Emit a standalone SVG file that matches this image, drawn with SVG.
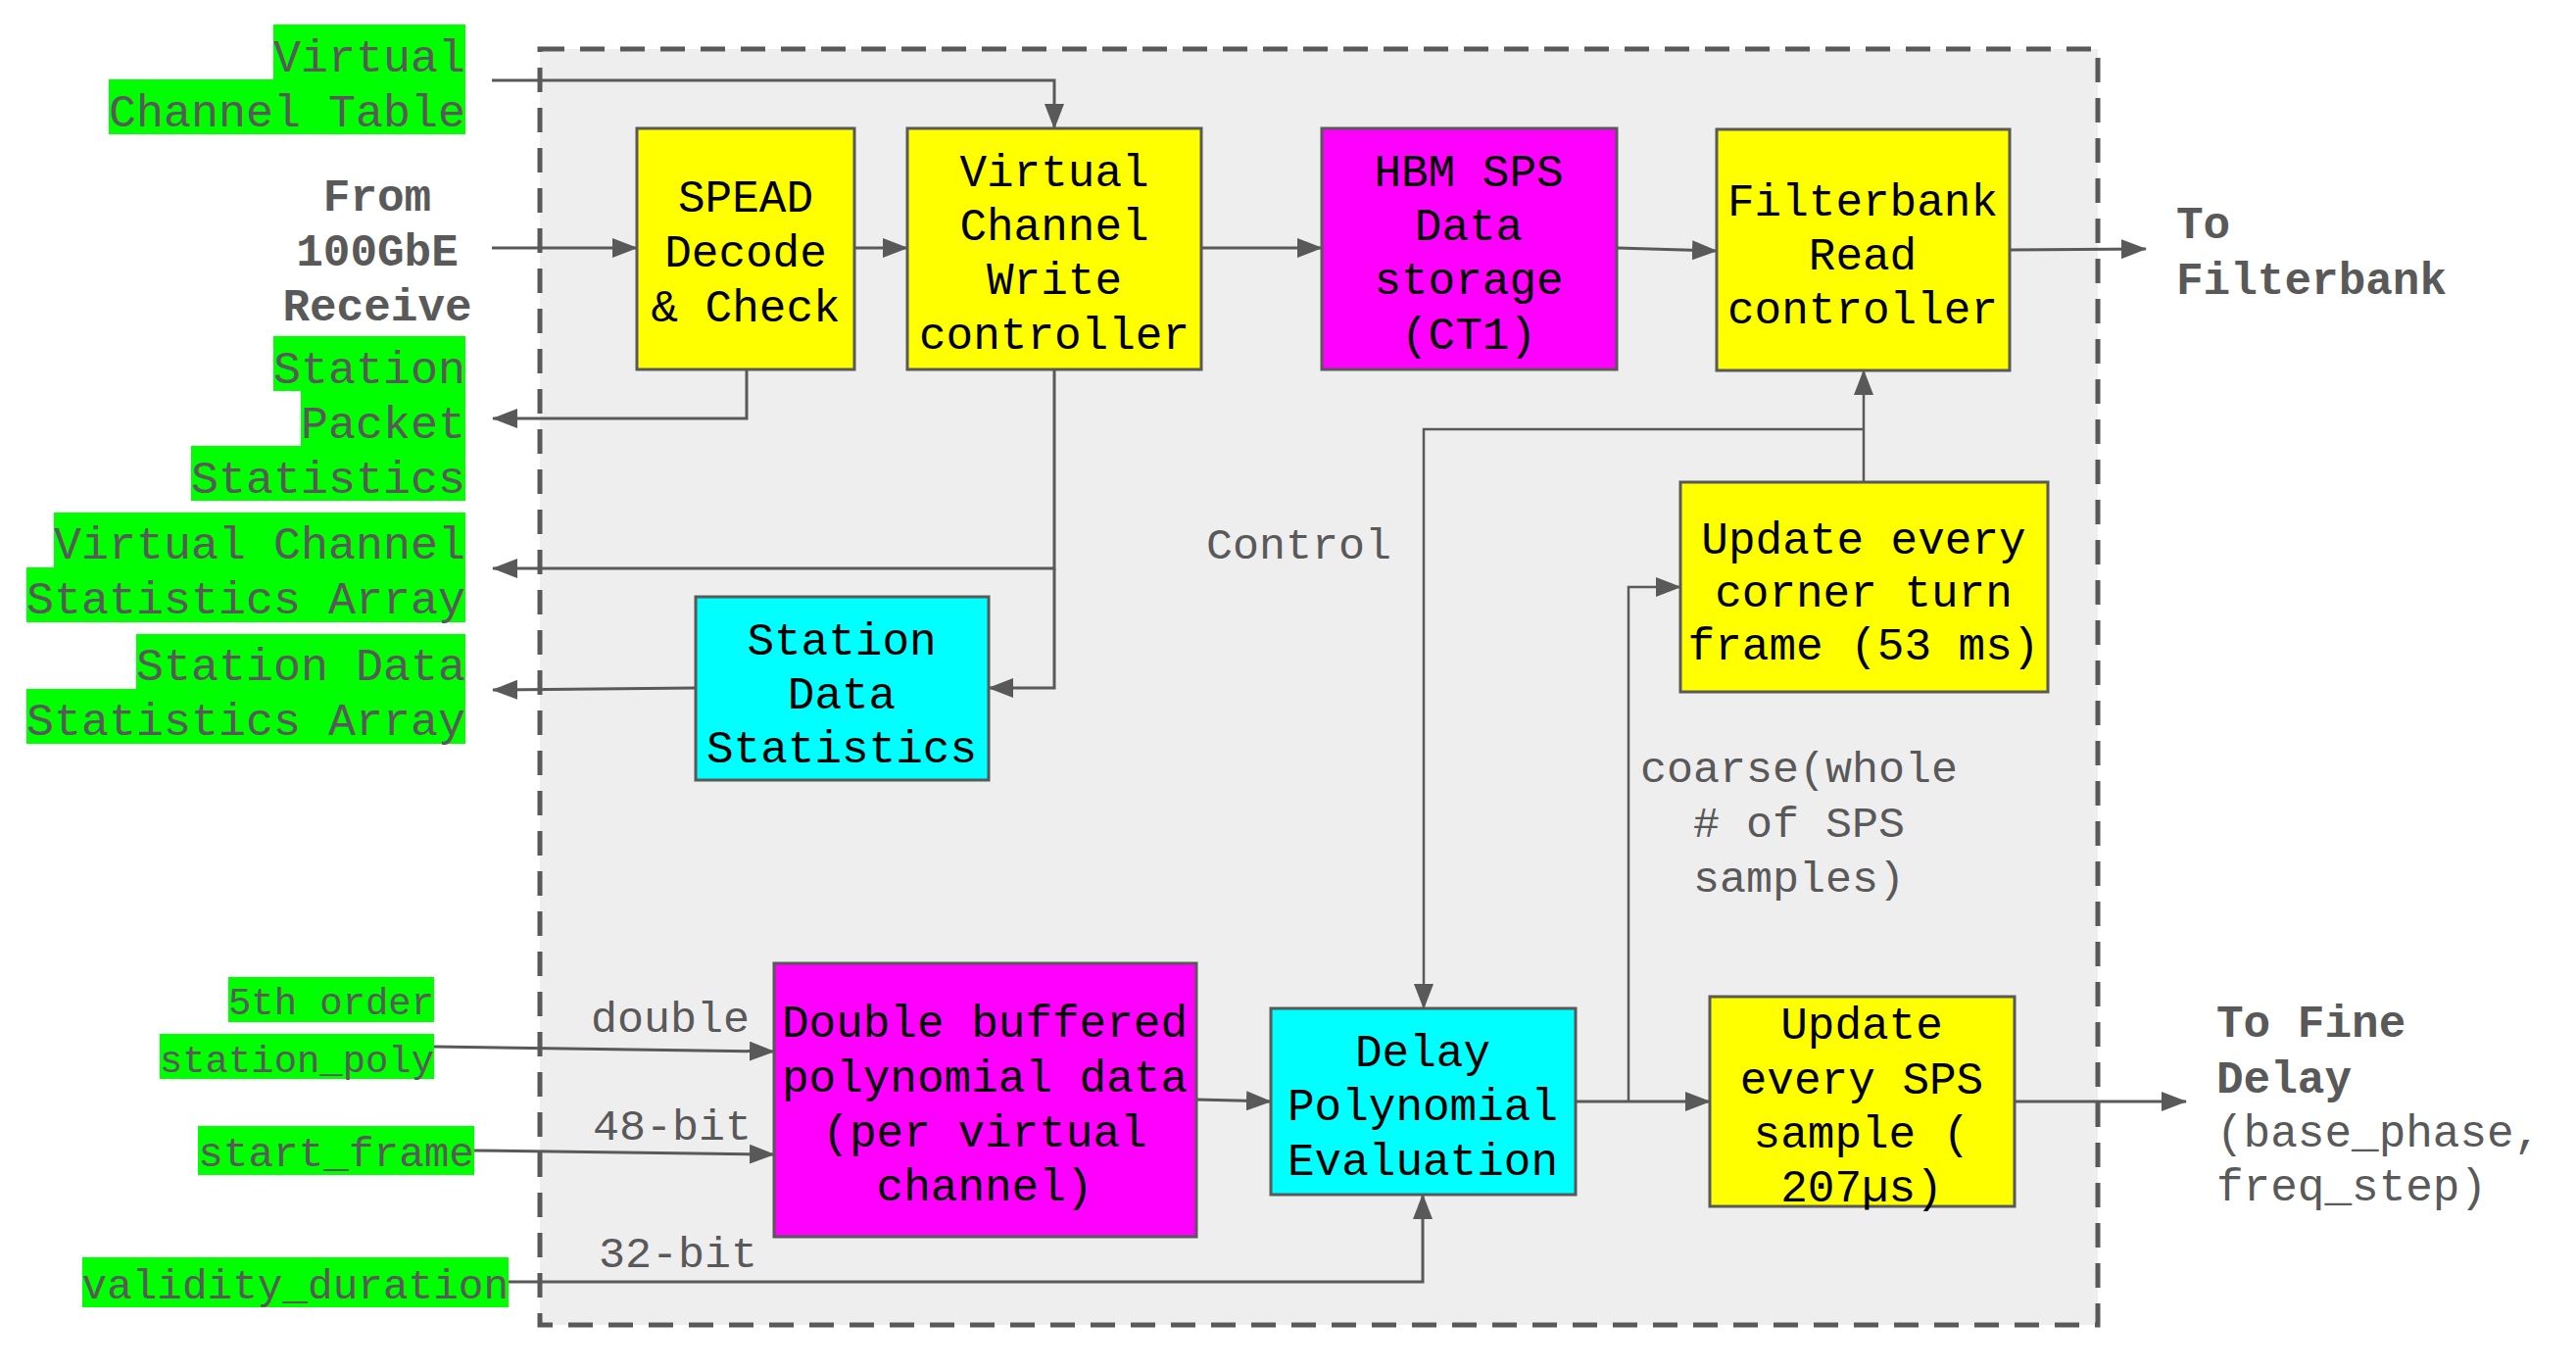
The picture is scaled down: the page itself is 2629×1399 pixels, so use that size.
<svg xmlns="http://www.w3.org/2000/svg" width="2629" height="1399" viewBox="0 0 2629 1399">
<style>
.node{stroke:#595959;stroke-width:3}
.y{fill:#ffff00}.m{fill:#ff00ff}.c{fill:#00ffff}
.nt{font-family:"Liberation Mono",monospace;font-size:46px;fill:#000;text-anchor:middle}
.gl{font-family:"Liberation Mono",monospace;font-size:46.67px;fill:#595959;text-anchor:end}
.gs{font-family:"Liberation Mono",monospace;font-size:38.9px;fill:#595959;text-anchor:end}
.gm{font-family:"Liberation Mono",monospace;font-size:42.7px;fill:#595959;text-anchor:end}
.hl{fill:#00ff00}
.el{font-family:"Liberation Mono",monospace;font-size:45px;fill:#595959}
.bt{font-family:"Liberation Mono",monospace;font-size:46px;fill:#595959;font-weight:bold}
.rt{font-family:"Liberation Mono",monospace;font-size:46px;fill:#595959}
.ln{fill:none;stroke:#595959;stroke-width:3}
.thin{fill:none;stroke:#595959;stroke-width:2.5}
</style>
<defs>
<marker id="ar" markerUnits="userSpaceOnUse" markerWidth="26" markerHeight="20" refX="25" refY="10" orient="auto">
<path d="M0,0 L26,10 L0,20 z" fill="#595959"/>
</marker>
</defs>
<rect width="2629" height="1399" fill="#ffffff"/>
<g id="container">
<rect x="551" y="50" width="1590" height="1302" fill="#eeeeee" stroke="#595959" stroke-width="5" stroke-dasharray="25,16"/>
</g>
<g id="inputs">
<g id="vct"><rect class="hl" x="279" y="25" width="196" height="56"/><rect class="hl" x="111" y="81" width="364" height="56"/>
<text class="gl" x="475" y="73">Virtual</text><text class="gl" x="475" y="129">Channel Table</text></g>
<g id="from100"><text class="bt" x="385" y="215" text-anchor="middle">From</text><text class="bt" x="385" y="271" text-anchor="middle">100GbE</text><text class="bt" x="385" y="327" text-anchor="middle">Receive</text></g>
<g id="sps-stats"><rect class="hl" x="279" y="343" width="196" height="56"/><rect class="hl" x="307" y="399" width="168" height="56"/><rect class="hl" x="195" y="455" width="280" height="56"/>
<text class="gl" x="475" y="391">Station</text><text class="gl" x="475" y="447">Packet</text><text class="gl" x="475" y="503">Statistics</text></g>
<g id="vc-stats"><rect class="hl" x="55" y="523" width="420" height="56"/><rect class="hl" x="27" y="579" width="448" height="56"/>
<text class="gl" x="475" y="570">Virtual Channel</text><text class="gl" x="475" y="626">Statistics Array</text></g>
<g id="sd-stats"><rect class="hl" x="139" y="647" width="336" height="56"/><rect class="hl" x="27" y="703" width="448" height="56"/>
<text class="gl" x="475" y="694">Station Data</text><text class="gl" x="475" y="750">Statistics Array</text></g>
<g id="poly-in"><rect class="hl" x="233" y="997" width="210" height="46"/><rect class="hl" x="163" y="1055" width="280" height="46"/>
<text class="gs" x="443" y="1035">5th order</text><text class="gs" x="443" y="1094">station_poly</text></g>
<g id="start-frame"><rect class="hl" x="202" y="1149" width="282" height="50"/><text class="gm" x="484" y="1190">start_frame</text></g>
<g id="validity"><rect class="hl" x="84" y="1283" width="435" height="51"/><text class="gm" x="519" y="1325">validity_duration</text></g>
</g>
<g id="outputs">
<g id="to-fb"><text class="bt" x="2221" y="243">To</text><text class="bt" x="2221" y="300">Filterbank</text></g>
<g id="to-fd"><text class="bt" x="2262" y="1058">To Fine</text><text class="bt" x="2262" y="1115">Delay</text><text class="rt" x="2262" y="1170">(base_phase,</text><text class="rt" x="2262" y="1225">freq_step)</text></g>
</g>
<g id="spead"><rect class="node y" x="650" y="131" width="222" height="246"/>
<text class="nt" x="761" y="216">SPEAD</text><text class="nt" x="761" y="272">Decode</text><text class="nt" x="761" y="328">&amp; Check</text></g>
<g id="vcw"><rect class="node y" x="926" y="131" width="300" height="246"/>
<text class="nt" x="1076" y="190">Virtual</text><text class="nt" x="1076" y="245">Channel</text><text class="nt" x="1076" y="300">Write</text><text class="nt" x="1076" y="356">controller</text></g>
<g id="hbm"><rect class="node m" x="1349" y="131" width="301" height="246"/>
<text class="nt" x="1499" y="190">HBM SPS</text><text class="nt" x="1499" y="245">Data</text><text class="nt" x="1499" y="300">storage</text><text class="nt" x="1499" y="356">(CT1)</text></g>
<g id="fbr"><rect class="node y" x="1752" y="132" width="299" height="246"/>
<text class="nt" x="1901" y="220">Filterbank</text><text class="nt" x="1901" y="275">Read</text><text class="nt" x="1901" y="330">controller</text></g>
<g id="sds"><rect class="node c" x="710" y="609" width="299" height="187"/>
<text class="nt" x="859" y="668">Station</text><text class="nt" x="859" y="723">Data</text><text class="nt" x="859" y="778">Statistics</text></g>
<g id="uct"><rect class="node y" x="1715" y="492" width="375" height="214"/>
<text class="nt" x="1902" y="565">Update every</text><text class="nt" x="1902" y="619">corner turn</text><text class="nt" x="1902" y="673">frame (53 ms)</text></g>
<g id="dbp"><rect class="node m" x="790" y="983" width="431" height="279"/>
<text class="nt" x="1005" y="1058">Double buffered</text><text class="nt" x="1005" y="1114">polynomial data</text><text class="nt" x="1005" y="1170">(per virtual</text><text class="nt" x="1005" y="1225">channel)</text></g>
<g id="dpe"><rect class="node c" x="1297" y="1029" width="311" height="190"/>
<text class="nt" x="1452" y="1088">Delay</text><text class="nt" x="1452" y="1143">Polynomial</text><text class="nt" x="1452" y="1199">Evaluation</text></g>
<g id="usps"><rect class="node y" x="1745" y="1017" width="311" height="214"/>
<text class="nt" x="1900" y="1060">Update</text><text class="nt" x="1900" y="1116">every SPS</text><text class="nt" x="1900" y="1171">sample (</text><text class="nt" x="1900" y="1226">207µs)</text></g>
<g id="connectors">
<path class="ln" d="M502,82 H1076 V131" marker-end="url(#ar)"/>
<path class="ln" d="M502,253 H650" marker-end="url(#ar)"/>
<path class="ln" d="M872,253 H926" marker-end="url(#ar)"/>
<path class="ln" d="M1226,253 H1349" marker-end="url(#ar)"/>
<path class="ln" d="M1650,253 L1752,256" marker-end="url(#ar)"/>
<path class="ln" d="M2051,255 L2190,254" marker-end="url(#ar)"/>
<path class="ln" d="M762,377 V427 H503" marker-end="url(#ar)"/>
<path class="ln" d="M1076,377 V580 H503" marker-end="url(#ar)"/>
<path class="ln" d="M1076,580 V702 H1009" marker-end="url(#ar)"/>
<path class="ln" d="M710,702 L503,704" marker-end="url(#ar)"/>
<path class="thin" d="M1902,492 V378" marker-end="url(#ar)"/>
<path class="thin" d="M1902,438 H1453 V1029" marker-end="url(#ar)"/>
<path class="ln" d="M1608,1124 H1745" marker-end="url(#ar)"/>
<path class="thin" d="M1662,1124 V599 H1715" marker-end="url(#ar)"/>
<path class="ln" d="M2056,1124 H2231" marker-end="url(#ar)"/>
<path class="ln" d="M1221,1122 L1297,1124" marker-end="url(#ar)"/>
<path class="ln" d="M443,1068 L790,1073" marker-end="url(#ar)"/>
<path class="ln" d="M484,1174 L790,1178" marker-end="url(#ar)"/>
<path class="ln" d="M519,1308 H1452 V1219" marker-end="url(#ar)"/>
<text class="el" x="603" y="1053">double</text>
<text class="el" x="605" y="1163">48-bit</text>
<text class="el" x="611" y="1293">32-bit</text>
<text class="el" x="1231" y="570">Control</text>
<text class="el" x="1836" y="798" text-anchor="middle">coarse(whole</text>
<text class="el" x="1836" y="854" text-anchor="middle"># of SPS</text>
<text class="el" x="1836" y="910" text-anchor="middle">samples)</text>
</g>
</svg>
